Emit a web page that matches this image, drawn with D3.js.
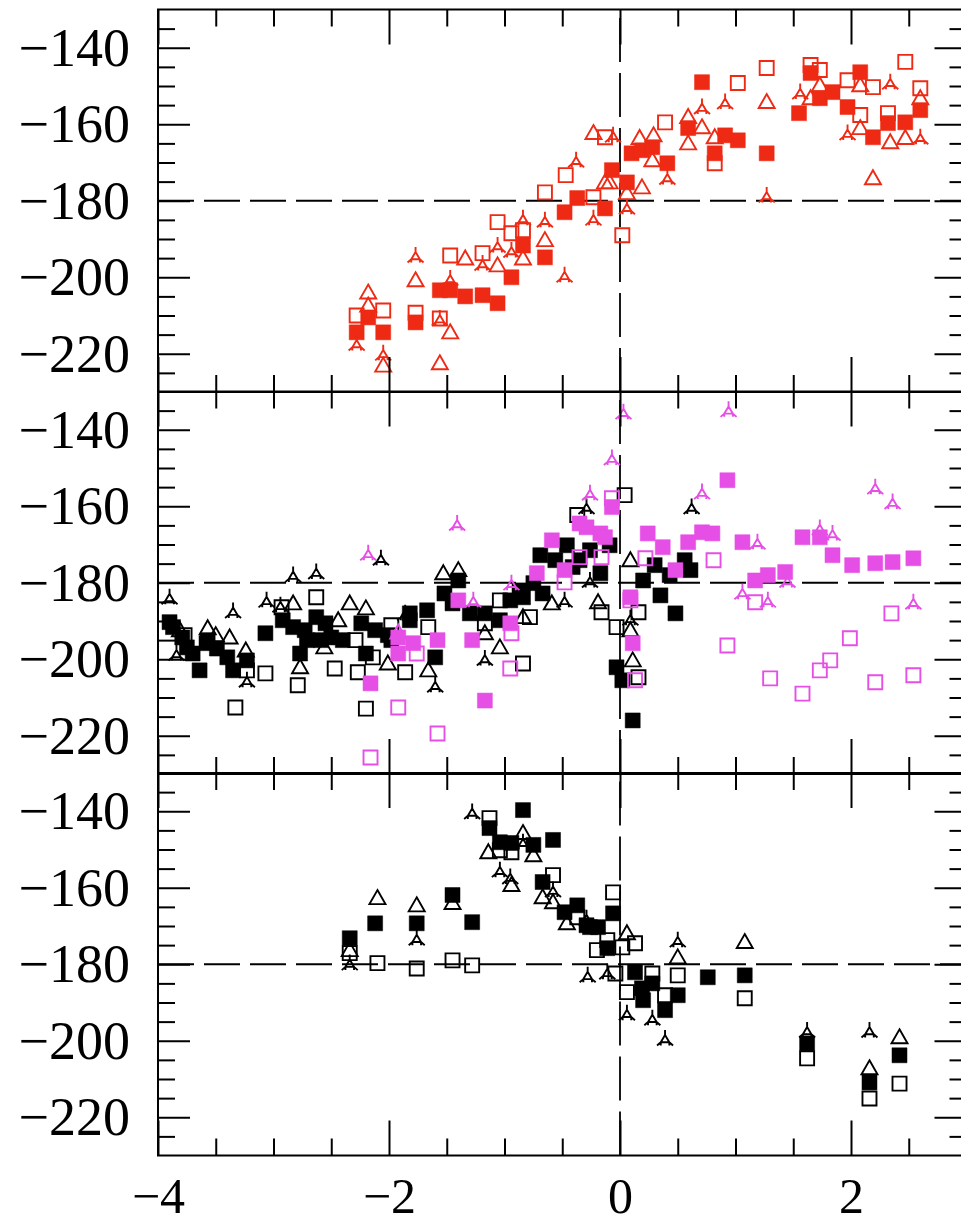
<!DOCTYPE html>
<html>
<head>
<meta charset="utf-8">
<script src="https://cdn.jsdelivr.net/npm/d3@7/dist/d3.min.js"></script>
<style>
body { margin: 0; background: #fff; }
</style>
</head>
<body>
<div id="chart"></div>
<script>
// ---- data (x, angle) ----
// top panel, red
var p1Filled = [[-0.07,-172.0],[-0.37,-179.3],[-0.48,-183.0],[-0.13,-182.0],[-0.84,-191.7],[-0.65,-194.8],[-0.94,-200.0],[-1.56,-203.4],[-1.47,-203.4],[-1.34,-205.0],[-1.19,-204.7],[-1.06,-206.8],[-1.77,-211.8],[-2.18,-210.5],[-2.28,-214.4],[-2.05,-214.4],[0.71,-149.0],[1.65,-146.6],[1.73,-153.2],[1.84,-151.6],[2.08,-146.4],[2.60,-156.3],[1.55,-157.1],[1.97,-155.5],[2.32,-159.7],[2.47,-159.5],[2.19,-163.4],[1.27,-167.6],[0.59,-161.0],[0.91,-162.9],[1.02,-164.2],[0.82,-167.6],[0.10,-167.6],[0.19,-166.8],[0.28,-166.0],[0.41,-170.2],[0.06,-175.2]];
var p1OpenSq = [[-0.13,-163.4],[-0.47,-173.3],[-0.65,-177.8],[-0.23,-179.1],[-1.06,-185.6],[-0.94,-188.5],[-0.84,-187.7],[-1.47,-194.3],[-1.19,-193.7],[-2.05,-208.7],[-1.77,-209.3],[-1.56,-210.8],[-2.28,-210.0],[1.27,-145.3],[1.02,-149.2],[1.65,-144.5],[1.73,-145.8],[1.97,-148.5],[2.19,-150.3],[2.47,-143.7],[2.60,-150.6],[0.39,-159.5],[0.82,-170.2],[2.08,-157.6],[2.32,-157.1],[0.02,-189.0]];
var p1OpenTri = [[-0.23,-162.3],[-0.13,-175.2],[-0.65,-190.3],[-0.84,-195.1],[-1.34,-195.1],[-1.06,-196.9],[-1.77,-200.8],[-2.18,-204.0],[-2.18,-207.4],[-1.47,-214.4],[-2.05,-223.1],[-1.56,-222.5],[1.27,-154.2],[1.73,-149.8],[2.08,-149.8],[2.60,-153.2],[1.65,-153.2],[0.71,-160.8],[0.59,-158.1],[0.59,-165.0],[0.82,-163.4],[0.17,-163.6],[0.29,-162.9],[0.28,-169.4],[0.19,-176.5],[0.06,-178.0],[-0.09,-175.2],[2.08,-161.0],[2.34,-164.7],[2.47,-163.6],[2.19,-174.1]];
var p1Skel = [[-0.06,-162.9],[-0.38,-169.4],[-0.23,-184.6],[-0.65,-185.1],[-0.84,-184.6],[-1.06,-191.7],[-0.94,-193.0],[-1.77,-194.3],[-1.19,-196.4],[-0.48,-199.5],[-1.47,-200.3],[-2.28,-217.3],[-2.05,-219.9],[0.71,-155.5],[0.91,-154.2],[1.56,-151.6],[2.34,-149.0],[1.97,-162.3],[2.60,-163.4],[1.27,-178.6],[0.41,-173.9],[0.06,-181.7],[-1.56,-210.8]];

// middle panel, black
var p2Filled = [[-3.90,-190.3],[-3.87,-191.6],[-3.79,-194.3],[-3.75,-196.9],[-3.70,-198.5],[-3.64,-202.9],[-3.58,-195.8],[-3.57,-195.0],[-3.49,-197.2],[-3.40,-199.5],[-3.35,-202.9],[-3.23,-200.3],[-3.07,-193.2],[-2.92,-189.8],[-2.83,-191.6],[-2.77,-198.5],[-2.71,-195.0],[-2.73,-192.4],[-2.63,-189.0],[-2.55,-190.6],[-2.59,-195.0],[-2.50,-194.3],[-2.40,-195.0],[-2.24,-190.6],[-2.20,-198.5],[-2.12,-192.4],[-2.01,-193.7],[-1.98,-195.0],[-1.82,-189.8],[-1.82,-188.0],[-1.67,-187.2],[-1.60,-199.5],[-1.52,-182.8],[-1.45,-185.4],[-1.40,-179.4],[-1.30,-188.0],[-1.17,-188.0],[-1.04,-189.8],[-0.95,-184.6],[-0.84,-183.8],[-0.75,-180.1],[-0.67,-182.8],[-0.41,-175.9],[-0.17,-177.5],[-0.46,-170.2],[-0.26,-171.5],[-0.09,-170.2],[-0.35,-174.1],[0.20,-179.4],[0.30,-175.4],[0.43,-178.0],[0.56,-174.1],[0.35,-183.3],[0.48,-188.0],[0.61,-176.7],[-0.03,-202.1],[0.02,-205.5],[0.11,-216.0],[-0.56,-174.1],[-0.69,-172.8],[-0.87,-182.0]];
var p2OpenSq = [[-3.77,-193.7],[-3.23,-202.9],[-3.33,-212.6],[-3.07,-203.7],[-2.93,-186.4],[-2.79,-206.8],[-2.63,-183.8],[-2.47,-202.4],[-2.29,-195.0],[-2.27,-203.4],[-2.20,-212.9],[-2.14,-199.5],[-1.98,-191.1],[-1.86,-203.4],[-1.66,-191.6],[-1.17,-190.6],[-1.04,-184.6],[-0.84,-201.1],[-0.78,-189.0],[-0.37,-162.3],[-0.16,-187.7],[0.04,-157.1],[-0.03,-191.6],[0.16,-187.7],[0.16,-204.7]];
var p2OpenTri = [[-3.81,-192.4],[-3.57,-191.9],[-3.50,-193.7],[-3.38,-194.3],[-3.24,-197.7],[-2.83,-185.4],[-2.77,-202.1],[-2.56,-196.9],[-2.44,-189.8],[-2.34,-185.4],[-2.20,-186.7],[-2.01,-201.1],[-1.53,-177.5],[-1.40,-176.7],[-1.17,-193.2],[-1.04,-196.9],[-0.84,-189.0],[-0.59,-185.4],[-0.19,-185.1],[-1.66,-202.9],[0.09,-174.1],[0.09,-192.4],[0.11,-200.3]];
var p2Skel = [[-3.90,-183.8],[-3.35,-187.4],[-3.23,-205.5],[-3.84,-198.5],[-3.06,-184.6],[-2.94,-185.9],[-2.83,-178.0],[-2.63,-177.2],[-2.07,-173.6],[-1.86,-188.0],[-1.60,-206.8],[-1.17,-199.8],[-0.48,-184.6],[-0.26,-179.4],[-0.29,-160.2],[0.09,-189.3],[0.62,-160.2]];

// middle panel, magenta
var p2mFilled = [[-2.16,-206.3],[-1.92,-194.3],[-1.92,-198.5],[-1.79,-195.8],[-1.58,-195.0],[-1.28,-195.0],[-1.17,-210.8],[-1.40,-184.6],[-0.95,-190.6],[-0.72,-177.5],[-0.59,-168.9],[-0.48,-176.7],[-0.35,-164.5],[-0.29,-165.5],[-0.17,-167.1],[-0.13,-168.1],[-0.07,-160.2],[0.09,-183.8],[0.11,-195.8],[0.24,-167.1],[0.37,-170.7],[0.59,-169.4],[0.71,-166.8],[0.80,-167.1],[0.48,-176.7],[0.93,-153.2],[1.06,-169.4],[1.17,-179.4],[1.28,-178.0],[1.43,-177.2],[1.58,-168.1],[1.73,-168.1],[1.84,-172.8],[2.01,-175.4],[2.21,-174.9],[2.36,-174.6],[2.54,-173.6]];
var p2mOpenSq = [[-1.92,-212.6],[-2.16,-225.7],[-1.58,-219.4],[-1.76,-198.5],[-0.94,-193.2],[-0.95,-202.4],[-0.48,-179.9],[-0.35,-173.3],[-0.16,-173.3],[-0.07,-157.9],[0.09,-184.6],[0.13,-205.5],[0.22,-173.6],[0.81,-174.1],[1.17,-185.1],[0.93,-196.4],[1.30,-205.0],[1.58,-209.0],[1.73,-202.9],[1.82,-200.3],[1.99,-194.5],[2.21,-206.0],[2.35,-188.0],[2.54,-204.2]];
var p2mOpenTri = [[-1.92,-193.0]];
var p2mSkel = [[-2.18,-172.3],[-1.41,-164.5],[-1.27,-184.6],[-0.94,-180.1],[-0.26,-156.6],[-0.07,-147.4],[0.03,-135.4],[0.71,-156.3],[0.94,-134.8],[1.06,-182.5],[1.19,-169.4],[1.28,-184.6],[1.45,-179.4],[1.73,-165.7],[1.84,-167.1],[2.21,-155.0],[2.36,-158.9],[2.54,-185.1]];

// bottom panel, black
var p3Filled = [[-1.13,-144.4],[-0.84,-139.7],[-1.04,-148.1],[-0.94,-148.3],[-0.75,-148.8],[-0.58,-147.5],[-0.67,-158.5],[-0.48,-166.4],[-0.37,-164.6],[-0.26,-170.3],[-0.19,-170.3],[-0.11,-175.8],[-0.06,-166.7],[-0.29,-169.8],[-2.34,-173.2],[-2.12,-169.3],[-1.76,-169.3],[-1.45,-161.9],[-1.28,-169.0],[0.13,-182.1],[0.19,-186.3],[0.20,-189.4],[0.28,-185.0],[0.39,-192.0],[0.50,-188.1],[0.76,-183.4],[1.08,-182.9],[1.62,-200.7],[2.16,-210.9],[2.42,-203.8]];
var p3OpenSq = [[-1.13,-141.8],[-1.04,-150.2],[-0.94,-150.7],[-0.58,-156.7],[-0.11,-173.7],[-0.06,-161.2],[-0.04,-182.4],[0.02,-175.6],[0.13,-174.5],[0.06,-187.3],[0.28,-182.4],[0.39,-188.1],[0.50,-182.9],[1.08,-188.9],[1.62,-204.6],[2.16,-215.1],[2.42,-211.2],[-2.34,-177.1],[-2.10,-179.7],[-1.76,-181.1],[-1.45,-179.0],[-1.28,-180.3],[-0.37,-167.7],[-0.20,-176.3]];
var p3OpenTri = [[-0.84,-145.7],[-1.14,-150.7],[-0.75,-151.5],[-0.94,-159.3],[-0.67,-162.5],[-0.58,-163.8],[-0.46,-169.3],[-2.10,-162.7],[-1.76,-164.6],[-1.45,-164.0],[-2.34,-176.3],[0.06,-171.9],[0.50,-178.2],[1.08,-174.2],[2.16,-207.2],[2.42,-199.1]];
var p3Skel = [[-1.28,-140.2],[-0.84,-148.1],[-1.04,-155.4],[-0.95,-157.2],[-0.58,-160.6],[-0.29,-168.0],[-0.28,-182.9],[-0.11,-182.1],[-2.34,-179.7],[-1.76,-173.2],[0.06,-192.8],[0.28,-194.1],[0.39,-199.4],[0.50,-173.7],[1.62,-197.3],[2.16,-197.3]];

var xMajor = [-4, -2, 0, 2];
var xMinor = [-3.5, -3, -2.5, -1.5, -1, -0.5, 0.5, 1, 1.5, 2.5];
var yMajor = [-140, -160, -180, -200, -220];
var yMinor = [-135, -145, -150, -155, -165, -170, -175, -185, -190, -195, -205, -210, -215, -225];

// ---- layout ----
var width = 961, height = 1225;
var red = "#ee2a14", magenta = "#e64fe6";

var svg = d3.select("#chart").append("svg")
    .attr("width", width)
    .attr("height", height)
    .style("display", "block");

var x = d3.scaleLinear().domain([-4, 3]).range([158, 966.5]);

var panels = [
    { top: 9.5, sets: [[p1Filled, "fs", red], [p1OpenSq, "os", red], [p1OpenTri, "ot", red], [p1Skel, "st", red]] },
    { top: 391.5, sets: [[p2Filled, "fs", "#000"], [p2OpenSq, "os", "#000"], [p2OpenTri, "ot", "#000"], [p2Skel, "st", "#000"],
                         [p2mFilled, "fs", magenta], [p2mOpenSq, "os", magenta], [p2mOpenTri, "ot", magenta], [p2mSkel, "st", magenta]] },
    { top: 773, sets: [[p3Filled, "fs", "#000"], [p3OpenSq, "os", "#000"], [p3OpenTri, "ot", "#000"], [p3Skel, "st", "#000"]] }
];
var panelH = 382.5;

// marker shapes
var shapes = {
    fs: "M-7.5,-7.5H7.5V7.5H-7.5Z",
    os: "M-7,-7H7V7H-7Z",
    ot: "M0,-8L8,6H-8Z",
    st: "M0,-8.5V-3.5L4.3,3.8H-4.3L0,-3.5M4.3,3.8L8,7M-4.3,3.8L-8,7M-4.3,3.8V7M4.3,3.8V7"
};

function styleAxis(g) {
    g.select(".domain").remove();
    g.selectAll(".tick line").attr("stroke", "#000").attr("stroke-width", 2);
    g.attr("font-family", "'Liberation Serif', 'DejaVu Serif', serif").attr("font-size", 54);
    g.selectAll("text").attr("fill", "#000");
}

panels.forEach(function (p, i) {
    var y = d3.scaleLinear().domain([-230, -130]).range([p.top + panelH, p.top]);
    var g = svg.append("g");
    var bottom = p.top + panelH;

    // dashed reference lines
    g.append("line")
        .attr("x1", x(-4)).attr("x2", x(3))
        .attr("y1", y(-180)).attr("y2", y(-180))
        .attr("stroke", "#000").attr("stroke-width", 1.8)
        .attr("stroke-dasharray", "36,10");
    g.append("line")
        .attr("x1", x(0)).attr("x2", x(0))
        .attr("y1", bottom).attr("y2", p.top)
        .attr("stroke", "#000").attr("stroke-width", 1.8)
        .attr("stroke-dasharray", "44,11");

    // points
    p.sets.forEach(function (s) {
        var kind = s[1], col = s[2];
        var filled = kind == "fs";
        g.selectAll(null)
            .data(s[0])
            .enter()
            .append("path")
            .attr("transform", function (d) { return "translate(" + x(d[0]) + "," + y(d[1]) + ")"; })
            .attr("d", shapes[kind])
            .attr("fill", filled ? col : "none")
            .attr("stroke", col)
            .attr("stroke-width", filled ? 0.5 : 1.9);
    });

    // axes, ticks pointing inward
    g.append("g").attr("transform", "translate(" + x(-4) + ",0)")
        .call(d3.axisLeft(y).tickValues(yMajor).tickSize(-32).tickPadding(28).tickFormat(d3.format("d")))
        .call(styleAxis);
    g.append("g").attr("transform", "translate(" + x(-4) + ",0)")
        .call(d3.axisLeft(y).tickValues(yMinor).tickSize(-17).tickFormat(""))
        .call(styleAxis);
    g.append("g").attr("transform", "translate(" + x(3) + ",0)")
        .call(d3.axisRight(y).tickValues(yMajor).tickSize(-32).tickFormat(""))
        .call(styleAxis);
    g.append("g").attr("transform", "translate(" + x(3) + ",0)")
        .call(d3.axisRight(y).tickValues(yMinor).tickSize(-17).tickFormat(""))
        .call(styleAxis);
    g.append("g").attr("transform", "translate(0," + p.top + ")")
        .call(d3.axisTop(x).tickValues(xMajor).tickSize(-35).tickFormat(""))
        .call(styleAxis);
    g.append("g").attr("transform", "translate(0," + p.top + ")")
        .call(d3.axisTop(x).tickValues(xMinor).tickSize(-17).tickFormat(""))
        .call(styleAxis);
    var bx = d3.axisBottom(x).tickValues(xMajor).tickSize(-35).tickPadding(22);
    bx.tickFormat(i == 2 ? d3.format("d") : "");
    var gb = g.append("g").attr("transform", "translate(0," + bottom + ")")
        .call(bx)
        .call(styleAxis);
    gb.attr("font-size", 50);
    g.append("g").attr("transform", "translate(0," + bottom + ")")
        .call(d3.axisBottom(x).tickValues(xMinor).tickSize(-17).tickFormat(""))
        .call(styleAxis);

    // frame
    g.append("rect")
        .attr("x", x(-4)).attr("y", p.top)
        .attr("width", x(3) - x(-4)).attr("height", panelH)
        .attr("fill", "none").attr("stroke", "#000").attr("stroke-width", 2);
});
</script>
</body>
</html>
